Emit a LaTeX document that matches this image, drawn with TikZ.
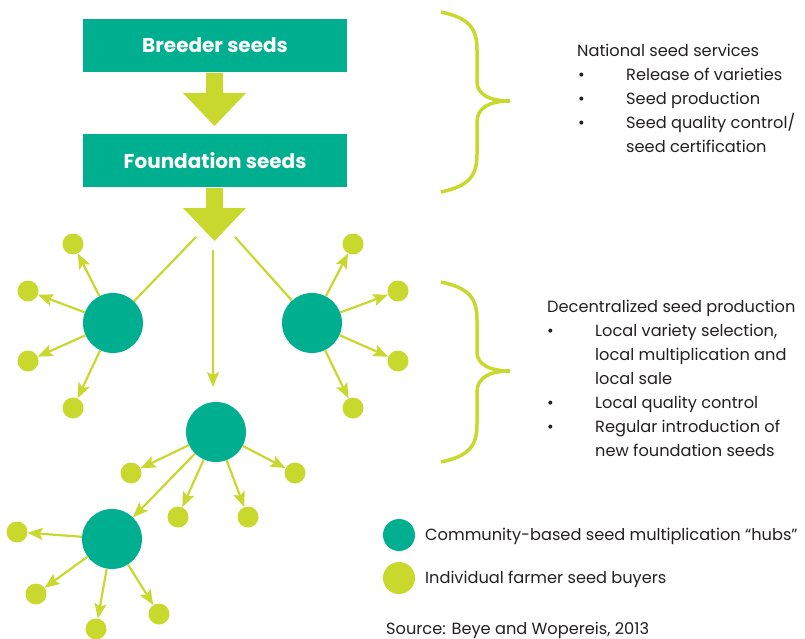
\documentclass[tikz,border=0pt]{standalone}
\usepackage{fontspec}
\setmainfont{Poppins}
\usetikzlibrary{arrows.meta}
\definecolor{teal}{RGB}{0,175,143}
\definecolor{lime}{RGB}{200,216,44}
\definecolor{txt}{RGB}{35,31,32}
\begin{document}
\begin{tikzpicture}[x=1pt,y=-1pt,
  box/.style={fill=teal,minimum width=264pt,minimum height=53pt,inner sep=0pt,text=white,font=\fontsize{20}{24}\selectfont\bfseries},
  hub/.style={circle,fill=teal,minimum size=60pt,inner sep=0pt},
  buyer/.style={circle,fill=lime,minimum size=21pt,inner sep=0pt},
  arr/.style={draw=lime,line width=2.2pt,-{Stealth[length=15pt,width=12pt,inset=3pt]}},
  feed/.style={draw=lime,line width=2.2pt},
  brace/.style={draw=lime,line width=3.5pt},
  lbl/.style={anchor=base west,inner sep=0pt,text=txt,font=\fontsize{16.2}{19}\selectfont},
  blockarrow/.style={fill=lime},
  bracepic/.pic={\draw[brace] (0,0) .. controls (28,6) and (36,16) .. (36,38) -- (36,70) .. controls (36,82) and (48,89) .. (69,89) .. controls (48,89) and (36,96) .. (36,110) -- (36,142) .. controls (36,164) and (28,174) .. (0,180);}
]
\useasboundingbox (0,0) rectangle (805,639);

% boxes
\node[box] (breeder) at (215,45.5) {Breeder seeds};
\node[box] (found) at (215,160.5) {Foundation seeds};

% block arrows
\fill[blockarrow] (206,73) -- (223,73) -- (223,93) -- (246,93) -- (214.5,126) -- (183,93) -- (206,93) -- cycle;
\fill[blockarrow] (206,188) -- (223,188) -- (223,208) -- (246,208) -- (214.5,241) -- (183,208) -- (206,208) -- cycle;

% hubs
\node[hub] (h1) at (113,323) {};
\node[hub] (h2) at (312,323) {};
\node[hub] (h3) at (216,432) {};
\node[hub] (h4) at (112,539) {};

% buyers
\node[buyer] (b11) at (73,244) {};
\node[buyer] (b12) at (28,291) {};
\node[buyer] (b13) at (28,361) {};
\node[buyer] (b14) at (73,408) {};
\node[buyer] (b21) at (353,244) {};
\node[buyer] (b22) at (398,291) {};
\node[buyer] (b23) at (398,361) {};
\node[buyer] (b24) at (353,408) {};
\node[buyer] (b31) at (131,473) {};
\node[buyer] (b32) at (178,517) {};
\node[buyer] (b33) at (248,517) {};
\node[buyer] (b34) at (295,473) {};
\node[buyer] (b41) at (17,532) {};
\node[buyer] (b42) at (36,594) {};
\node[buyer] (b43) at (96,629) {};
\node[buyer] (b44) at (159,614) {};

% feed lines from foundation arrow
\coordinate (fl) at (196,237);
\coordinate (fr) at (235,237);
\coordinate (fc) at (213,250);
\coordinate (fcend) at (213,387);
\draw[feed] (fl) -- (h1);
\draw[feed] (fr) -- (h2);
\draw[arr] (fc) -- (fcend);

% hub arrows
\foreach \h/\b in {h1/b11,h1/b12,h1/b13,h1/b14,h2/b21,h2/b22,h2/b23,h2/b24,h3/b31,h3/b32,h3/b33,h3/b34,h3/h4,h4/b41,h4/b42,h4/b43,h4/b44}
  \draw[arr] (\h) -- (\b);

% braces
\pic at (441,12) {bracepic};
\pic at (441,282) {bracepic};

% top text
\node[lbl] (t0) at (577,57) {National seed services};
\node[lbl] (t1b) at (578,81) {•};
\node[lbl] (t1) at (626,81) {Release of varieties};
\node[lbl] (t2b) at (578,105) {•};
\node[lbl] (t2) at (626,105) {Seed production};
\node[lbl] (t3b) at (578,129) {•};
\node[lbl] (t3) at (626,129) {Seed quality control/};
\node[lbl] (t4) at (626,153) {seed certification};

% bottom text
\node[lbl] (d0) at (547,312) {Decentralized seed production};
\node[lbl] (d1b) at (547,336) {•};
\node[lbl] (d1) at (595,336) {Local variety selection,};
\node[lbl] (d2) at (595,360) {local multiplication and};
\node[lbl] (d3) at (595,384) {local sale};
\node[lbl] (d4b) at (547,408) {•};
\node[lbl] (d4) at (595,408) {Local quality control};
\node[lbl] (d5b) at (547,432) {•};
\node[lbl] (d5) at (595,432) {Regular introduction of};
\node[lbl] (d6) at (595,456) {new foundation seeds};

% legend
\node[circle,fill=teal,minimum size=32pt,inner sep=0pt] (lg1) at (399,535) {};
\node[circle,fill=lime,minimum size=32pt,inner sep=0pt] (lg2) at (399,578) {};
\node[lbl] (lt1) at (425,540) {Community-based seed multiplication “hubs”};
\node[lbl] (lt2) at (425,583) {Individual farmer seed buyers};
\node[lbl] (src) at (386,634) {Source: Beye and Wopereis, 2013};
\end{tikzpicture}
\end{document}
